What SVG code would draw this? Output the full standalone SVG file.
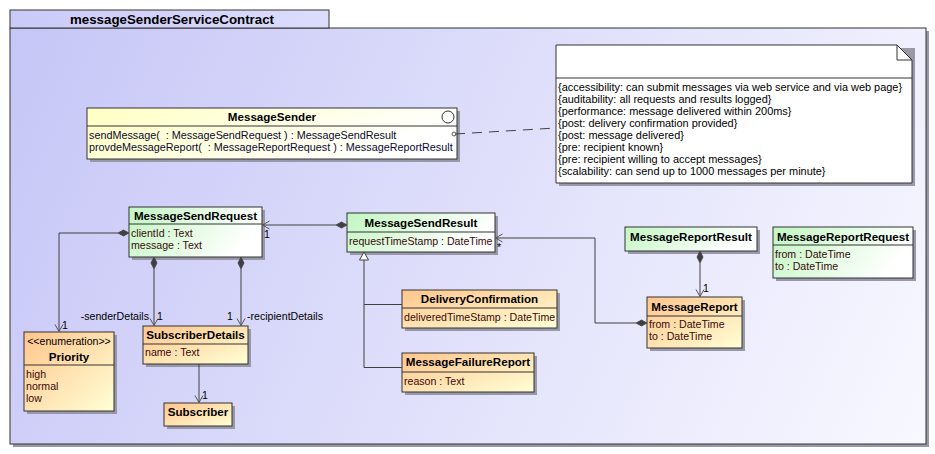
<svg xmlns="http://www.w3.org/2000/svg" width="935" height="454" viewBox="0 0 935 454">
<defs>
<linearGradient id="gPkg" gradientUnits="userSpaceOnUse" x1="10" y1="28" x2="926" y2="444">
<stop offset="0" stop-color="#c6c6f7"/><stop offset="1" stop-color="#f8f8ff"/>
</linearGradient>
<linearGradient id="gTab" x1="0" y1="0" x2="1" y2="0">
<stop offset="0" stop-color="#cacaf8"/><stop offset="1" stop-color="#dcdcfc"/>
</linearGradient>
<linearGradient id="gYel" x1="0" y1="0" x2="1" y2="0.3">
<stop offset="0" stop-color="#ffffc2"/><stop offset="1" stop-color="#ffffff"/>
</linearGradient>
<linearGradient id="gGrn" x1="0" y1="0" x2="1" y2="0.3">
<stop offset="0" stop-color="#c2f6c2"/><stop offset="1" stop-color="#ffffff"/>
</linearGradient>
<linearGradient id="gOrg" x1="0" y1="0" x2="1" y2="1">
<stop offset="0" stop-color="#ffc58c"/><stop offset="1" stop-color="#ffffd6"/>
</linearGradient>
<marker id="arr" markerUnits="userSpaceOnUse" markerWidth="10" markerHeight="10" refX="7" refY="4" orient="auto" overflow="visible">
<path d="M0,0 L7,4 L0,8" fill="none" stroke="#555555" stroke-width="1"/>
</marker>
</defs>
<style>
text{font-family:"Liberation Sans",Arial,sans-serif;font-size:10.6px;fill:#000000;white-space:pre}
.nm{font-weight:bold;font-size:11.6px;text-anchor:middle}
.pk{font-weight:bold;font-size:13.3px;text-anchor:middle}
.nt{font-size:10.95px}
.at{fill:#3a0a0a}
.op{fill:#0a0a30;font-size:10.8px}
.box{stroke:#333333;stroke-width:1}
.sh{fill:#9898a8}
.dv{stroke:#333333;stroke-width:1}
.ln{fill:none;stroke:#404040;stroke-width:1}
.dm{fill:#404040;stroke:#404040;stroke-width:0.8}
.lb{fill:#000000}
</style>

<g id="package">
<rect x="13" y="31" width="916" height="416" class="sh"/>
<rect x="10" y="28" width="916" height="416" fill="url(#gPkg)" class="box"/>
<rect x="10" y="10" width="319" height="18" fill="url(#gTab)" class="box"/>
<text x="172" y="24" class="pk">messageSenderServiceContract</text>
</g>

<g id="note">
<path d="M559,48 H915 V186 H559 Z" class="sh"/>
<path d="M556,45 H897 L912,60 V183 H556 Z" fill="#ffffff" class="box"/>
<path d="M897,45 V60 H912" fill="none" class="box"/>
<line x1="556" y1="78" x2="912" y2="78" class="dv"/>
<text x="558" y="91" class="nt">{accessibility: can submit messages via web service and via web page}</text>
<text x="558" y="103" class="nt">{auditability: all requests and results logged}</text>
<text x="558" y="115" class="nt">{performance: message delivered within 200ms}</text>
<text x="558" y="127" class="nt">{post: delivery confirmation provided}</text>
<text x="558" y="139" class="nt">{post: message delivered}</text>
<text x="558" y="151" class="nt">{pre: recipient known}</text>
<text x="558" y="163" class="nt">{pre: recipient willing to accept messages}</text>
<text x="558" y="175" class="nt">{scalability: can send up to 1000 messages per minute}</text>
</g>

<g id="MessageSender">
<rect x="90" y="111" width="370" height="51" class="sh"/>
<rect x="87" y="108" width="370" height="51" fill="url(#gYel)" class="box"/>
<line x1="87" y1="126" x2="457" y2="126" class="dv"/>
<circle cx="448" cy="117" r="6" fill="none" stroke="#333333" stroke-width="1"/>
<text x="272" y="121" class="nm">MessageSender</text>
<text x="89" y="139" class="op">sendMessage(  : MessageSendRequest ) : MessageSendResult</text>
<text x="89" y="151" class="op">provdeMessageReport(  : MessageReportRequest ) : MessageReportResult</text>
</g>

<g id="MessageSendRequest">
<rect x="132" y="210" width="133" height="50" class="sh"/>
<rect x="129" y="207" width="133" height="50" fill="url(#gGrn)" class="box"/>
<line x1="129" y1="224" x2="262" y2="224" class="dv"/>
<text x="195.5" y="220" class="nm">MessageSendRequest</text>
<text x="131" y="237" class="at">clientId : Text</text>
<text x="131" y="249" class="at">message : Text</text>
</g>

<g id="MessageSendResult">
<rect x="350" y="216" width="148" height="39" class="sh"/>
<rect x="347" y="213" width="148" height="39" fill="url(#gGrn)" class="box"/>
<line x1="347" y1="232" x2="495" y2="232" class="dv"/>
<text x="421" y="227" class="nm">MessageSendResult</text>
<text x="349" y="245" class="at">requestTimeStamp : DateTime</text>
</g>

<g id="DeliveryConfirmation">
<rect x="405" y="293" width="155" height="38" class="sh"/>
<rect x="402" y="290" width="155" height="38" fill="url(#gOrg)" class="box"/>
<line x1="402" y1="308" x2="557" y2="308" class="dv"/>
<text x="479.5" y="303" class="nm">DeliveryConfirmation</text>
<text x="404" y="321" class="at">deliveredTimeStamp : DateTime</text>
</g>

<g id="MessageFailureReport">
<rect x="405" y="356" width="132" height="39" class="sh"/>
<rect x="402" y="353" width="132" height="39" fill="url(#gOrg)" class="box"/>
<line x1="402" y1="372" x2="534" y2="372" class="dv"/>
<text x="468" y="366" class="nm">MessageFailureReport</text>
<text x="404" y="385" class="at">reason : Text</text>
</g>

<g id="Priority">
<rect x="27" y="335" width="90" height="79" class="sh"/>
<rect x="24" y="332" width="90" height="79" fill="url(#gOrg)" class="box"/>
<line x1="24" y1="365" x2="114" y2="365" class="dv"/>
<text x="69" y="344.5" text-anchor="middle">&lt;&lt;enumeration&gt;&gt;</text>
<text x="69" y="360.5" class="nm">Priority</text>
<text x="26" y="378" class="at">high</text>
<text x="26" y="390" class="at">normal</text>
<text x="26" y="402" class="at">low</text>
</g>

<g id="SubscriberDetails">
<rect x="146" y="329" width="105" height="38" class="sh"/>
<rect x="143" y="326" width="105" height="38" fill="url(#gOrg)" class="box"/>
<line x1="143" y1="344" x2="248" y2="344" class="dv"/>
<text x="195.5" y="339" class="nm">SubscriberDetails</text>
<text x="145" y="356" class="at">name : Text</text>
</g>

<g id="Subscriber">
<rect x="167" y="406" width="68" height="23" class="sh"/>
<rect x="164" y="403" width="68" height="23" fill="url(#gOrg)" class="box"/>
<text x="198" y="415.5" class="nm">Subscriber</text>
</g>

<g id="MessageReportResult">
<rect x="628" y="230" width="132" height="24" class="sh"/>
<rect x="625" y="227" width="132" height="24" fill="url(#gGrn)" class="box"/>
<text x="691" y="240.5" class="nm">MessageReportResult</text>
</g>

<g id="MessageReportRequest">
<rect x="776" y="230" width="140" height="51" class="sh"/>
<rect x="773" y="227" width="140" height="51" fill="url(#gGrn)" class="box"/>
<line x1="773" y1="245" x2="913" y2="245" class="dv"/>
<text x="843" y="240.5" class="nm">MessageReportRequest</text>
<text x="775" y="258" class="at">from : DateTime</text>
<text x="775" y="270" class="at">to : DateTime</text>
</g>

<g id="MessageReport">
<rect x="650" y="300" width="95" height="51" class="sh"/>
<rect x="647" y="297" width="95" height="51" fill="url(#gOrg)" class="box"/>
<line x1="647" y1="316" x2="742" y2="316" class="dv"/>
<text x="694.5" y="311" class="nm">MessageReport</text>
<text x="649" y="328" class="at">from : DateTime</text>
<text x="649" y="340" class="at">to : DateTime</text>
</g>

<g id="connectors">
<line x1="455" y1="134" x2="556" y2="128" class="ln" stroke-dasharray="10,7"/>
<circle cx="454" cy="134" r="2" fill="none" stroke="#555555" stroke-width="1"/>

<polyline points="118,233 59,233 59,331.5" class="ln" marker-end="url(#arr)"/>
<polygon points="129,233 123.5,230 118,233 123.5,236" class="dm"/>
<text x="62" y="329" class="lb">1</text>

<line x1="154" y1="269" x2="154" y2="325.5" class="ln" marker-end="url(#arr)"/>
<polygon points="154,257 157,263 154,269 151,263" class="dm"/>
<text x="149" y="320" text-anchor="end" class="lb">-senderDetails</text>
<text x="157" y="320" class="lb">1</text>

<line x1="241" y1="269" x2="241" y2="325.5" class="ln" marker-end="url(#arr)"/>
<polygon points="241,257 244,263 241,269 238,263" class="dm"/>
<text x="233" y="320" text-anchor="end" class="lb">1</text>
<text x="247" y="320" class="lb">-recipientDetails</text>

<line x1="199" y1="364" x2="199" y2="402.5" class="ln" marker-end="url(#arr)"/>
<text x="202" y="399" class="lb">1</text>

<line x1="336" y1="225" x2="262.5" y2="225" class="ln" marker-end="url(#arr)"/>
<polygon points="347,225 341.5,222 336,225 341.5,228" class="dm"/>
<text x="264" y="238" class="lb">1</text>

<path d="M364,260 V367.5 M364,304.5 H402 M364,367.5 H402" class="ln"/>
<polygon points="364,252 368.5,260 359.5,260" fill="#ffffff" stroke="#404040" stroke-width="1"/>

<polyline points="636,323 595,323 595,238 495.5,238" class="ln" marker-end="url(#arr)"/>
<polygon points="647,323 641.5,320 636,323 641.5,326" class="dm"/>
<text x="497" y="251" class="lb">*</text>

<line x1="700" y1="263" x2="700" y2="296.5" class="ln" marker-end="url(#arr)"/>
<polygon points="700,251 703,257 700,263 697,257" class="dm"/>
<text x="703" y="292" class="lb">1</text>
</g>
</svg>
